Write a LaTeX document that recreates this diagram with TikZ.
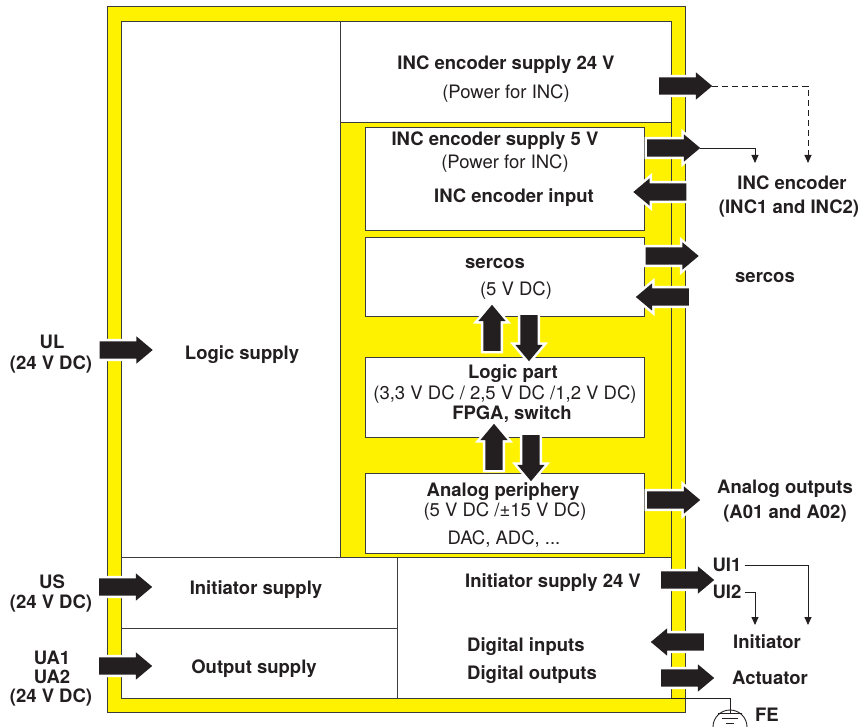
\documentclass[tikz,border=0pt]{standalone}
\usepackage{fontspec}
\setmainfont{TeX Gyre Heros}
\usetikzlibrary{shapes.arrows,arrows.meta}
\definecolor{ink}{RGB}{35,31,32}
\definecolor{yel}{RGB}{255,242,0}
\definecolor{edge}{RGB}{60,60,60}
\newcommand\fsz{\fontsize{18.5}{22}\selectfont}

\begin{document}
\begin{tikzpicture}[x=1pt, y=-1pt,
  bt/.style={font=\fsz\bfseries, text=ink, inner sep=0pt, text height=13.3pt, text depth=0pt},
  rt/.style={font=\fsz, text=ink, inner sep=0pt, text height=13.3pt, text depth=0pt},
  box/.style={draw=edge, fill=white, line width=0.8pt, inner sep=0pt, minimum width=279pt},
  ln/.style={draw=edge, line width=0.8pt},
  blk/.style={single arrow, fill=ink, inner xsep=0pt, inner ysep=8.5pt, outer sep=0pt,
              minimum height=53pt, single arrow head extend=5pt, single arrow tip angle=80,
              preaction={draw=white, line width=5pt}},
  vblk/.style={blk, minimum height=46pt},
  fl/.style={draw=ink, line width=0.9pt, -{Triangle[length=8pt, width=7pt]}},
]
\useasboundingbox (0,0) rectangle (863,727);
% frame and regions
\draw[ln, fill=yel] (107,6) rectangle (685,712);
\draw[ln, fill=white] (121,21) rectangle (671,698);
\draw[ln, fill=yel] (340,122) rectangle (671,557);
\draw[ln] (340,21) -- (340,122);
\draw[ln] (121,557) -- (340,557);
\draw[ln] (397,557) -- (397,698);
\draw[ln] (121,628) -- (397,628);

% inner boxes
\node[box, minimum height=103pt] (inc5) at (504.5,178.5) {};
\node[box, minimum height=79pt] (ser) at (504.5,276.5) {};
\node[box, minimum height=80pt] (logic) at (504.5,397) {};
\node[box, minimum height=80pt] (ana) at (504.5,513) {};

% texts inside
\node[bt] (tLogSup) at (242,353) {Logic supply};
\node[bt] (tInc24) at (506,63) {INC encoder supply 24 V};
\node[rt] (tPow1) at (506,92) {(Power for INC)};
\node[bt] (tInc5) at (495,139) {INC encoder supply 5 V};
\node[rt] (tPow2) at (505,162) {(Power for INC)};
\node[bt] (tIncIn) at (514,196) {INC encoder input};
\node[bt] (tSer1) at (495,262) {sercos};
\node[rt] (tSer2) at (516,289) {(5 V DC)};
\node[bt] (tLp1) at (513,372) {Logic part};
\node[rt] (tLp2) at (505,393) {(3,3 V DC / 2,5 V DC /1,2 V DC)};
\node[bt] (tLp3) at (512,413) {FPGA, switch};
\node[bt] (tAp1) at (503,490) {Analog periphery};
\node[rt] (tAp2) at (505,510) {(5 V DC /±15 V DC)};
\node[rt] (tAp3) at (504,538) {DAC, ADC, ...};
\node[bt] (tIniSup) at (256,588) {Initiator supply};
\node[bt] (tOutSup) at (254,667) {Output supply};
\node[bt] (tIni24) at (553,581) {Initiator supply 24 V};
\node[bt, anchor=west] (tDin) at (467,645) {Digital inputs};
\node[bt, anchor=west] (tDout) at (467,673) {Digital outputs};

% texts outside
\node[bt] (ul1) at (52,342) {UL};
\node[bt] (ul2) at (51,363) {(24 V DC)};
\node[bt] (us1) at (52,582) {US};
\node[bt] (us2) at (51,602) {(24 V DC)};
\node[bt] (ua1) at (52,658) {UA1};
\node[bt] (ua2) at (52,677) {UA2};
\node[bt] (ua3) at (51,696) {(24 V DC)};
\node[bt] (enc1) at (792,183) {INC encoder};
\node[bt] (enc2) at (789,207) {(INC1 and INC2)};
\node[bt] (sercos) at (765,276) {sercos};
\node[bt] (ao1) at (785,487) {Analog outputs};
\node[bt] (ao2) at (785,512) {(A01 and A02)};
\node[bt] (ui1) at (727,565) {UI1};
\node[bt] (ui2) at (727,592) {UI2};
\node[bt] (ini) at (767,642) {Initiator};
\node[bt] (act) at (770,678) {Actuator};
\node[bt] (fe) at (767,715) {FE};

% block arrows
\node[blk] (aUL) at (121,350) {};
\node[blk] (aUS) at (120.5,587) {};
\node[blk] (aUA) at (120.5,666) {};
\node[blk] (a24) at (680.5,86) {};
\node[blk] (a5) at (668.5,148) {};
\node[blk, rotate=180] (aIn) at (665,192) {};
\node[blk] (aSerO) at (667,256) {};
\node[blk, rotate=180] (aSerI) at (667.5,297) {};
\node[blk] (aAna) at (668.5,500) {};
\node[blk] (aIni) at (682.5,580) {};
\node[blk, rotate=180] (aDin) at (682.5,642) {};
\node[blk] (aAct) at (682.5,678) {};
\node[vblk, rotate=90] (up1) at (492,333) {};
\node[vblk, rotate=-90] (dn1) at (529,333) {};
\node[vblk, rotate=90] (up2) at (494,452) {};
\node[vblk, rotate=-90] (dn2) at (531,453) {};

% connectors
\coordinate (encA) at (755,163);
\coordinate (encB) at (808,163);
\coordinate (iniA) at (755,625);
\coordinate (iniB) at (808,625);
\draw[fl, dash pattern=on 6pt off 4pt] (a24.tip) -| (encB);
\draw[fl] (a5.tip) -| (encA);
\draw[fl] ([xshift=3pt]ui1.east) -| (iniB);
\draw[fl] ([xshift=3pt]ui2.east) -| (iniA);

% functional earth
\coordinate (feA) at (671,698);
\coordinate (feB) at (730,713);
\draw[draw=ink, line width=0.9pt] (feA) -| (feB);
\draw[draw=ink, line width=0.9pt] ([xshift=-12pt]feB) -- ([xshift=12pt]feB);
\draw[draw=ink, line width=0.9pt] ([xshift=-8pt, yshift=-5pt]feB) -- ([xshift=8pt, yshift=-5pt]feB);
\draw[draw=ink, line width=0.9pt] ([xshift=-4pt, yshift=-10pt]feB) -- ([xshift=4pt, yshift=-10pt]feB);
\draw[draw=ink, line width=0.9pt] (713,727) arc[start angle=180, end angle=360, radius=17];
\end{tikzpicture}
\end{document}
